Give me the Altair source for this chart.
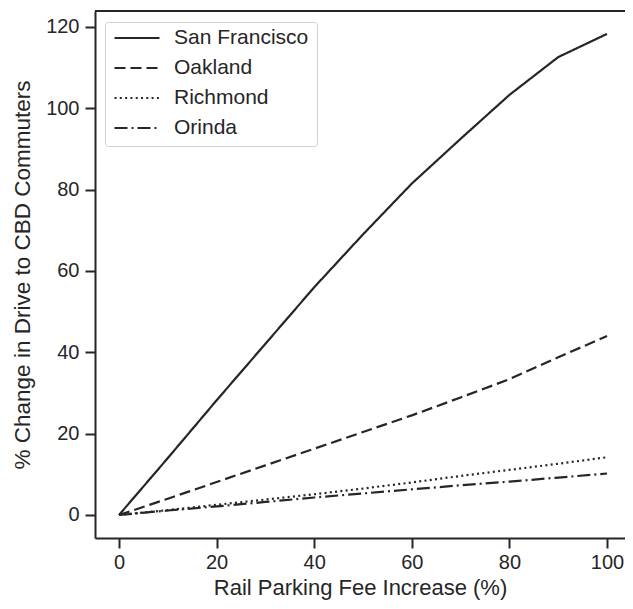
import altair as alt
import pandas as pd

fee = [0, 10, 20, 30, 40, 50, 60, 70, 80, 90, 100]
cities = ["San Francisco", "Oakland", "Richmond", "Orinda"]
sf = [0, 14.0, 28.2, 42.1, 56.0, 69.0, 81.5, 92.5, 103.3, 112.6, 118.3]
oakland = [0, 4.0, 8.1, 12.2, 16.3, 20.4, 24.5, 28.9, 33.4, 38.8, 44.0]
richmond = [0, 1.2, 2.5, 3.8, 5.1, 6.5, 8.0, 9.6, 11.1, 12.6, 14.2]
orinda = [0, 1.1, 2.1, 3.2, 4.3, 5.3, 6.3, 7.3, 8.2, 9.2, 10.2]
x_ticks = [0, 20, 40, 60, 80, 100]
y_ticks = [0, 20, 40, 60, 80, 100, 120]

rows = []
for c, vals in zip(cities, [sf, oakland, richmond, orinda]):
    for f, v in zip(fee, vals):
        rows.append({"fee": f, "change": v, "city": c})
df = pd.DataFrame(rows)

FONT = "Liberation Sans"
INK = "#262626"
W, H = 530, 527
dashes = [[1, 0], [11, 5], [2, 3.3], [13, 4, 2, 4]]

lines = alt.Chart(df).mark_line(strokeWidth=2.2, color=INK, clip=True).encode(
    x=alt.X("fee:Q",
            scale=alt.Scale(domain=[-4.92, 103.68], nice=False, zero=False),
            axis=alt.Axis(values=x_ticks, title="Rail Parking Fee Increase (%)", grid=False,
                          domainColor=INK, domainWidth=2, tickColor=INK, tickWidth=2, tickSize=10,
                          labelFont=FONT, labelFontSize=20, labelColor=INK, labelPadding=4,
                          titleFont=FONT, titleFontSize=22, titleFontWeight="normal",
                          titleColor=INK, titlePadding=5)),
    y=alt.Y("change:Q",
            scale=alt.Scale(domain=[-5.66, 123.93], nice=False, zero=False),
            axis=alt.Axis(values=y_ticks, title="% Change in Drive to CBD Commuters", grid=False,
                          domainColor=INK, domainWidth=2, tickColor=INK, tickWidth=2, tickSize=10,
                          labelFont=FONT, labelFontSize=20, labelColor=INK, labelPadding=6,
                          titleFont=FONT, titleFontSize=22.5, titleFontWeight="normal",
                          titleColor=INK, titlePadding=11)),
    strokeDash=alt.StrokeDash("city:N",
                              scale=alt.Scale(domain=cities, range=dashes),
                              legend=alt.Legend(title=None, orient="none", legendX=10, legendY=11,
                                                symbolType="stroke", symbolSize=2025,
                                                symbolStrokeWidth=2.2, symbolStrokeColor=INK,
                                                clipHeight=16,
                                                labelFont=FONT, labelFontSize=21, labelColor=INK,
                                                labelOffset=13, padding=8, rowPadding=9,
                                                strokeColor="#d0d0d0", cornerRadius=3,
                                                fillColor="white")),
)

top = alt.Chart(pd.DataFrame({"a": [0]})).mark_rule(color=INK, strokeWidth=2).encode(
    x=alt.value(0), x2=alt.value(W), y=alt.value(0)
)

chart = alt.layer(lines, top).properties(
    width=W, height=H, autosize="none",
    padding={"left": 87, "top": 3, "right": 0, "bottom": 63},
).configure_view(stroke=None)

chart.save("out.html", embed_options={"renderer": "svg", "actions": False})
